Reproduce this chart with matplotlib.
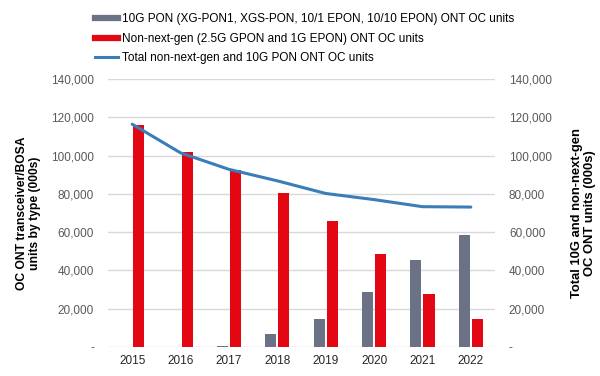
import matplotlib
matplotlib.use("Agg")
import matplotlib.pyplot as plt
from matplotlib.lines import Line2D
from matplotlib.ticker import FuncFormatter
import numpy as np

plt.rcParams["font.family"] = ["Liberation Sans", "DejaVu Sans"]

# ── Data (000s of units) ────────────────────────────────────────────────────
years     = ["2015", "2016", "2017", "2018", "2019", "2020", "2021", "2022"]
pon10g    = [0, 0, 500, 6600, 14600, 28600, 45600, 58700]
nonnext   = [116000, 101700, 92600, 80600, 65800, 48600, 27500, 14600]
total     = [116400, 101400, 92800, 86800, 80200, 77000, 73300, 73100]

LBL_10G   = "10G PON (XG-PON1, XGS-PON, 10/1 EPON, 10/10 EPON) ONT OC units"
LBL_NN    = "Non-next-gen (2.5G GPON and 1G EPON) ONT OC units"
LBL_TOT   = "Total non-next-gen and 10G PON ONT OC units"

GREY = "#6b7286"
RED  = "#e30613"
BLUE = "#3a7db8"
TICK = "#595959"

fig = plt.figure(figsize=(6.0, 3.76), dpi=100)
ax = fig.add_axes([0.18, 0.077, 0.645, 0.713])
ax2 = ax.twinx()

x = np.arange(len(years))
w = 0.23
ax.bar(x - 0.135, pon10g, w, color=GREY, zorder=3)
ax.bar(x + 0.135, nonnext, w, color=RED, zorder=3)
ax2.plot(x, total, color=BLUE, linewidth=2.2, solid_capstyle="round")

fmt = FuncFormatter(lambda v, p: "-" if v == 0 else f"{int(v):,}")
for a in (ax, ax2):
    a.set_ylim(0, 140000)
    a.set_yticks(np.arange(0, 140001, 20000))
    a.yaxis.set_major_formatter(fmt)
    a.tick_params(axis="y", length=0, labelsize=8.5, colors=TICK, pad=10)
    for s in a.spines.values():
        s.set_visible(False)

ax.set_xlim(-0.5, len(years) - 0.5)
ax.set_xticks(x)
ax.set_xticklabels(years)
ax.tick_params(axis="x", length=0, labelsize=8.5, colors="#262626", pad=6)
ax.grid(axis="y", color="#d9d9d9", linewidth=1.0, zorder=0)
ax.set_axisbelow(True)

ax.set_ylabel("OC ONT transceiver/BOSA\nunits by type (000s)",
              fontsize=8.7, fontweight="bold", labelpad=7, linespacing=1.1)
ax2.set_ylabel("Total 10G and non-next-gen\nOC ONT units (000s)",
               fontsize=9.4, fontweight="bold", labelpad=14, linespacing=1.05)

handles = [
    Line2D([], [], color=GREY, linewidth=4.5),
    Line2D([], [], color=RED, linewidth=4.5),
    Line2D([], [], color=BLUE, linewidth=2.2),
]
fig.legend(handles, [LBL_10G, LBL_NN, LBL_TOT],
           loc="upper left", bbox_to_anchor=(0.145, 0.987),
           frameon=False, fontsize=8.5, handlelength=1.95,
           handletextpad=0.35, labelspacing=0.65, borderaxespad=0.3)

fig.savefig("out.png", dpi=100)
